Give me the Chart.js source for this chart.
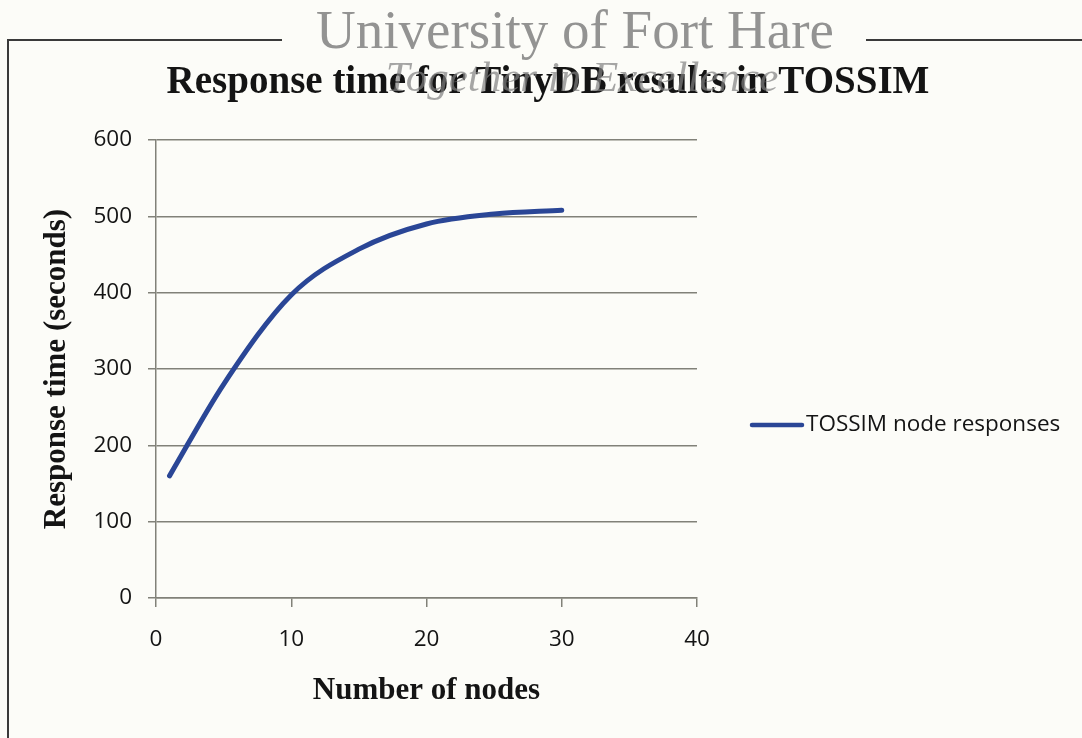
<!DOCTYPE html>
<html>
<head>
<meta charset="utf-8">
<script src="https://cdn.jsdelivr.net/npm/chart.js@4/dist/chart.umd.min.js"></script>
<style>
  html, body { margin: 0; padding: 0; background: #fcfcf8; }
  #wrap { width: 1082px; height: 738px; position: relative; }
</style>
</head>
<body>
<div id="wrap"><canvas id="c" width="1082" height="738"></canvas></div>
<script>
// Measured response times of the TinyDB query in the TOSSIM simulator
const nodeCounts = [1, 5, 10, 15, 20, 25, 30];
const responseSeconds = [160, 280, 397, 457, 490, 503, 508];
const seriesName = 'TOSSIM node responses';

const chartTitle = 'Response time for TinyDB results in TOSSIM';
const xAxisTitle = 'Number of nodes';
const yAxisTitle = 'Response time (seconds)';
const xTicks = [0, 10, 20, 30, 40];
const yTicks = [0, 100, 200, 300, 400, 500, 600];
const watermarkLines = ['University of Fort Hare', 'Together in Excellence'];

const PAPER = '#fcfcf8';
const LINE_BLUE = '#2a4696';
const GRID = '#818179';
const INK = '#141414';

const points = nodeCounts.map((n, i) => ({ x: n, y: responseSeconds[i] }));

// Page frame, title, legend and watermark drawn around the plot
const framePlugin = {
  id: 'frame',
  beforeDraw(chart) {
    const ctx = chart.ctx;
    ctx.save();
    ctx.fillStyle = PAPER;
    ctx.fillRect(0, 0, chart.width, chart.height);
    ctx.strokeStyle = '#3a3a3a';
    ctx.lineWidth = 2;
    ctx.beginPath();
    ctx.moveTo(8, chart.height);
    ctx.lineTo(8, 40);
    ctx.lineTo(chart.width, 40);
    ctx.stroke();
    ctx.restore();
  },
  afterDraw(chart) {
    const ctx = chart.ctx;
    ctx.save();
    // title
    ctx.fillStyle = INK;
    ctx.font = 'bold 39px "Liberation Serif"';
    ctx.textAlign = 'center';
    ctx.textBaseline = 'alphabetic';
    ctx.fillText(chartTitle, 548, 93);
    // legend
    const ds = chart.data.datasets[0];
    ctx.strokeStyle = ds.borderColor;
    ctx.lineWidth = 4.5;
    ctx.lineCap = 'round';
    ctx.beginPath();
    ctx.moveTo(752, 425);
    ctx.lineTo(802, 425);
    ctx.stroke();
    ctx.fillStyle = INK;
    ctx.font = '22.5px "Open Sans"';
    ctx.textAlign = 'left';
    ctx.textBaseline = 'middle';
    ctx.fillText(ds.label, 806, 425);
    // watermark
    ctx.fillStyle = PAPER;
    ctx.fillRect(282, 34, 584, 12);
    ctx.fillStyle = 'rgba(128,128,128,0.85)';
    ctx.textAlign = 'center';
    ctx.textBaseline = 'alphabetic';
    ctx.font = '55px "Liberation Serif"';
    ctx.fillText(watermarkLines[0], 575, 48);
    ctx.fillStyle = 'rgba(128,128,128,0.7)';
    ctx.font = 'italic 43px "Liberation Serif"';
    ctx.fillText(watermarkLines[1], 582, 91);
    ctx.restore();
  }
};

new Chart(document.getElementById('c'), {
  type: 'line',
  data: {
    datasets: [{
      label: seriesName,
      data: points,
      borderColor: LINE_BLUE,
      backgroundColor: LINE_BLUE,
      borderWidth: 5,
      borderCapStyle: 'round',
      borderJoinStyle: 'round',
      pointRadius: 0,
      cubicInterpolationMode: 'monotone',
      fill: false
    }]
  },
  options: {
    responsive: false,
    devicePixelRatio: 1,
    animation: false,
    layout: { padding: { left: 0, top: 140, right: 385, bottom: 0 } },
    plugins: {
      legend: { display: false },
      title: { display: false },
      tooltip: { enabled: false }
    },
    scales: {
      x: {
        type: 'linear',
        min: 0,
        max: 40,
        afterFit(scale) { scale.height = 140; },
        afterBuildTicks(scale) { scale.ticks = xTicks.map(v => ({ value: v })); },
        grid: { display: true, drawOnChartArea: false, drawTicks: true, tickLength: 9, color: GRID, lineWidth: 1.5 },
        border: { display: true, color: GRID, width: 1.5 },
        ticks: { color: INK, font: { family: 'Open Sans', size: 22.5 }, padding: 19, maxRotation: 0 },
        title: {
          display: true,
          text: xAxisTitle,
          color: INK,
          font: { family: 'Liberation Serif', size: 31, weight: 'bold' },
          padding: { top: 0, bottom: 28 }
        }
      },
      y: {
        type: 'linear',
        min: 0,
        max: 600,
        afterFit(scale) { scale.width = 156; },
        afterBuildTicks(scale) { scale.ticks = yTicks.map(v => ({ value: v })); },
        grid: { display: true, drawTicks: true, tickLength: 8, color: GRID, lineWidth: 1.5 },
        border: { display: true, color: GRID, width: 1.5 },
        ticks: { color: INK, font: { family: 'Open Sans', size: 22.5 }, padding: 16 },
        title: {
          display: true,
          text: yAxisTitle,
          color: INK,
          font: { family: 'Liberation Serif', size: 31, weight: 'bold' },
          padding: { top: 38, bottom: 0 }
        }
      }
    }
  },
  plugins: [framePlugin]
});
</script>
</body>
</html>
